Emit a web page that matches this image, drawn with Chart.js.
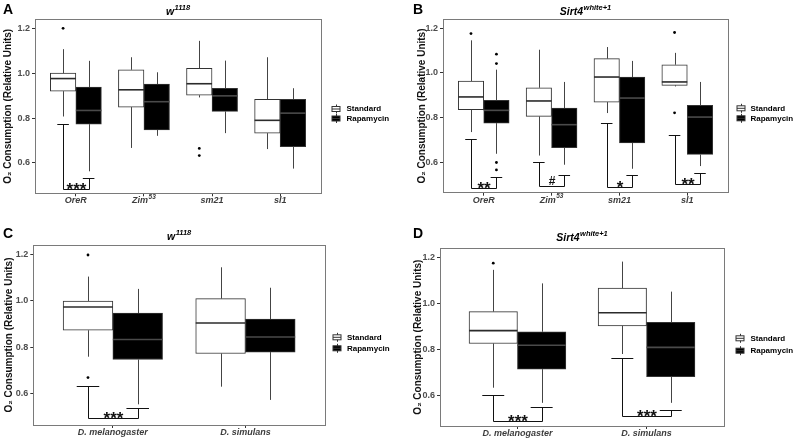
<!DOCTYPE html>
<html>
<head>
<meta charset="utf-8">
<script src="https://cdn.jsdelivr.net/npm/chart.js@4.4.0/dist/chart.umd.min.js"></script>
<style>
html,body{margin:0;padding:0;background:#ffffff;}
#wrap{position:relative;width:799px;height:439px;overflow:hidden;background:#fff;}
.pc{position:absolute;}
</style>
</head>
<body>
<div id="wrap">
  <div class="pc" style="left:0px;top:0px;width:400px;height:220px"><canvas id="cA"></canvas></div>
  <div class="pc" style="left:400px;top:0px;width:399px;height:220px"><canvas id="cB"></canvas></div>
  <div class="pc" style="left:0px;top:220px;width:400px;height:219px"><canvas id="cC"></canvas></div>
  <div class="pc" style="left:400px;top:220px;width:399px;height:219px"><canvas id="cD"></canvas></div>
</div>
<script>
// ---------------- DATA ----------------
const seriesNames = ['Standard', 'Rapamycin'];
const strainCategories = ['OreR', 'Zim^53', 'sm21', 'sl1'];
const speciesCategories = ['D. melanogaster', 'D. simulans'];
const yTickValues = [0.6, 0.8, 1.0, 1.2];
const panelLetters = ['A', 'B', 'C', 'D'];
const panelTitles = ['w^1118', 'Sirt4^white+1', 'w^1118', 'Sirt4^white+1'];
const yAxisTitle = 'O\u2082 Consumption (Relative Units)';

// box statistics per category: [lower whisker, Q1, median, Q3, upper whisker]
const aStandard  = [[0.807, 0.920, 0.976, 1.000, 1.107], [0.667, 0.849, 0.926, 1.015, 1.071], [0.892, 0.902, 0.953, 1.022, 1.144], [0.662, 0.733, 0.790, 0.884, 1.071]];
const aRapamycin = [[0.563, 0.773, 0.834, 0.938, 1.055], [0.721, 0.747, 0.873, 0.951, 1.004], [0.733, 0.830, 0.899, 0.932, 1.056], [0.575, 0.673, 0.822, 0.884, 0.933]];
const aStandardOutliers  = [[1.200], [], [0.665, 0.633], []];
const aRapamycinOutliers = [[], [], [], []];
// significance: [left arm top, right arm top, bracket bottom, label]
const aSignificance = [[0.773, 0.533, 0.486, '***'], null, null, null];

const bStandard  = [[0.736, 0.836, 0.893, 0.964, 1.146], [0.631, 0.806, 0.875, 0.934, 1.104], [0.821, 0.870, 0.982, 1.064, 1.116], [0.940, 0.945, 0.960, 1.037, 1.090]];
const bRapamycin = [[0.639, 0.776, 0.833, 0.878, 1.015], [0.590, 0.666, 0.769, 0.843, 0.960], [0.572, 0.687, 0.888, 0.982, 1.054], [0.584, 0.636, 0.803, 0.855, 0.960]];
const bStandardOutliers  = [[1.176], [], [], [1.181, 0.822]];
const bRapamycinOutliers = [[1.084, 1.042, 0.600, 0.567], [], [], []];
const bSignificance = [[0.706, 0.537, 0.487, '**'], [0.604, 0.542, 0.497, '#'], [0.778, 0.542, 0.490, '*'], [0.724, 0.552, 0.504, '**']];

const cStandard  = [[0.759, 0.873, 0.973, 0.999, 1.104], [0.630, 0.773, 0.904, 1.009, 1.144]];
const cRapamycin = [[0.554, 0.747, 0.833, 0.947, 1.051], [0.573, 0.779, 0.844, 0.921, 1.056]];
const cStandardOutliers  = [[1.197, 0.669], []];
const cRapamycinOutliers = [[], []];
const cSignificance = [[0.633, 0.540, 0.494, '***'], null];

const dStandard  = [[0.632, 0.825, 0.881, 0.964, 1.146], [0.779, 0.902, 0.959, 1.066, 1.182]];
const dRapamycin = [[0.566, 0.713, 0.817, 0.876, 1.087], [0.566, 0.680, 0.808, 0.917, 1.051]];
const dStandardOutliers  = [[1.175], []];
const dRapamycinOutliers = [[], []];
const dSignificance = [[0.600, 0.549, 0.486, '***'], [0.760, 0.534, 0.508, '***']];

// ---------------- STYLE / LAYOUT ----------------
const FONT = "'Liberation Sans', Arial, Helvetica, sans-serif";
Chart.defaults.font.family = FONT;
const DODGE = 0.1875;

const panels = [
  { id: 'cA', letter: panelLetters[0], title: panelTitles[0], cats: strainCategories, std: aStandard, rap: aRapamycin, stdOut: aStandardOutliers, rapOut: aRapamycinOutliers, sig: aSignificance,
    pad: { left: 2, top: 19.3, right: 79, bottom: 16.7 }, yW: 33, letterPos: [3, 14], titleY: 14.5, legend: { keyX: 336, textX: 346.5, rows: [109, 118.5] } },
  { id: 'cB', letter: panelLetters[1], title: panelTitles[1], cats: strainCategories, std: bStandard, rap: bRapamycin, stdOut: bStandardOutliers, rapOut: bRapamycinOutliers, sig: bSignificance,
    pad: { left: 16, top: 19.3, right: 71, bottom: 17.3 }, yW: 27, letterPos: [13, 14], titleY: 14.5, legend: { keyX: 341, textX: 350.5, rows: [108.3, 118.3] } },
  { id: 'cC', letter: panelLetters[2], title: panelTitles[2], cats: speciesCategories, std: cStandard, rap: cRapamycin, stdOut: cStandardOutliers, rapOut: cRapamycinOutliers, sig: cSignificance,
    pad: { left: 3, top: 25, right: 75, bottom: 4 }, yW: 30.3, letterPos: [3, 18.3], titleY: 19.5, legend: { keyX: 337, textX: 347, rows: [117.3, 128.3] } },
  { id: 'cD', letter: panelLetters[3], title: panelTitles[3], cats: speciesCategories, std: dStandard, rap: dRapamycin, stdOut: dStandardOutliers, rapOut: dRapamycinOutliers, sig: dSignificance,
    pad: { left: 12, top: 28.3, right: 75, bottom: 3 }, yW: 28, letterPos: [13, 18.3], titleY: 20.5, legend: { keyX: 340, textX: 350.5, rows: [118.3, 130.7] } }
];

function drawSupText(ctx, text, x, y, baseFont, supFont, raise, align) {
  const parts = text.split('^');
  ctx.font = baseFont;
  const wb = ctx.measureText(parts[0]).width;
  let ws = 0;
  if (parts[1]) { ctx.font = supFont; ws = ctx.measureText(parts[1]).width + 0.5; }
  const x0 = align === 'center' ? x - (wb + ws) / 2 : x;
  ctx.textAlign = 'left';
  ctx.font = baseFont;
  ctx.fillText(parts[0], x0, y);
  if (parts[1]) { ctx.font = supFont; ctx.fillText(parts[1], x0 + wb + 0.5, y - raise); }
}

function extrasPlugin(spec) {
  return {
    id: 'boxExtras',
    afterDatasetsDraw(chart) {
      const ctx = chart.ctx, xs = chart.scales.x, ys = chart.scales.y;
      const series = [{ stats: spec.std, s: -1, med: '#2b2b2b' }, { stats: spec.rap, s: 1, med: '#4a4a4a' }];
      ctx.save();
      series.forEach(sr => {
        sr.stats.forEach((q, i) => {
          const c = i + 1 + sr.s * DODGE;
          const x = Math.round(xs.getPixelForValue(c)) + 0.5;
          ctx.strokeStyle = '#444444';
          ctx.lineWidth = 1;
          ctx.beginPath();
          ctx.moveTo(x, ys.getPixelForValue(q[3])); ctx.lineTo(x, ys.getPixelForValue(q[4]));
          ctx.moveTo(x, ys.getPixelForValue(q[1])); ctx.lineTo(x, ys.getPixelForValue(q[0]));
          ctx.stroke();
          ctx.strokeStyle = sr.med;
          ctx.lineWidth = 1.6;
          ctx.beginPath();
          const ym = ys.getPixelForValue(q[2]);
          ctx.moveTo(xs.getPixelForValue(c - DODGE), ym); ctx.lineTo(xs.getPixelForValue(c + DODGE), ym);
          ctx.stroke();
        });
      });
      // significance brackets
      spec.sig.forEach((g, i) => {
        if (!g) return;
        const lc = i + 1 - DODGE, rc = i + 1 + DODGE, th = 0.085;
        const lx = Math.round(xs.getPixelForValue(lc)) + 0.5, rx = Math.round(xs.getPixelForValue(rc)) + 0.5;
        const yb = Math.round(ys.getPixelForValue(g[2])) + 0.5;
        const yl = Math.round(ys.getPixelForValue(g[0])) + 0.5, yr = Math.round(ys.getPixelForValue(g[1])) + 0.5;
        ctx.strokeStyle = '#111111';
        ctx.lineWidth = 1;
        ctx.beginPath();
        ctx.moveTo(xs.getPixelForValue(lc - th), yl); ctx.lineTo(xs.getPixelForValue(lc + th), yl);
        ctx.moveTo(lx, yl); ctx.lineTo(lx, yb); ctx.lineTo(rx, yb); ctx.lineTo(rx, yr);
        ctx.moveTo(xs.getPixelForValue(rc - th), yr); ctx.lineTo(xs.getPixelForValue(rc + th), yr);
        ctx.stroke();
        ctx.fillStyle = '#111111';
        ctx.textAlign = 'center';
        ctx.textBaseline = 'alphabetic';
        if (g[3] === '#') {
          ctx.font = 'bold 12px ' + FONT;
          ctx.fillText(g[3], (lx + rx) / 2, yb - 1.5);
        } else {
          ctx.font = 'bold 17px ' + FONT;
          ctx.fillText(g[3], (lx + rx) / 2, yb + 5.5);
        }
      });
      ctx.restore();
    },
    afterDraw(chart) {
      const ctx = chart.ctx, xs = chart.scales.x, a = chart.chartArea;
      ctx.save();
      // panel border
      ctx.strokeStyle = '#7a7a7a';
      ctx.lineWidth = 1;
      ctx.strokeRect(Math.round(a.left) + 0.5, Math.round(a.top) + 0.5, Math.round(a.right - a.left), Math.round(a.bottom - a.top));
      // x category labels
      ctx.fillStyle = '#3d3d3d';
      ctx.textBaseline = 'middle';
      spec.cats.forEach((c, i) => {
        const x = xs.getPixelForValue(i + 1);
        drawSupText(ctx, c, x, a.bottom + 7.5, 'italic bold 9px ' + FONT, 'italic bold 6.5px ' + FONT, 3.5, 'center');
      });
      // panel letter
      ctx.textBaseline = 'alphabetic';
      ctx.fillStyle = '#000000';
      ctx.font = 'bold 14px ' + FONT;
      ctx.textAlign = 'left';
      ctx.fillText(spec.letter, spec.letterPos[0], spec.letterPos[1]);
      // panel title
      drawSupText(ctx, spec.title, (a.left + a.right) / 2, spec.titleY, 'italic bold 10.5px ' + FONT, 'italic bold 7.5px ' + FONT, 4.5, 'center');
      // legend
      const L = spec.legend;
      const fills = ['#ffffff', '#000000'];
      seriesNames.forEach((name, k) => {
        const cy = L.rows[k];
        const kx = L.keyX;
        ctx.strokeStyle = '#333333';
        ctx.lineWidth = 1;
        ctx.beginPath();
        ctx.moveTo(Math.round(kx) + 0.5, cy - 4.5); ctx.lineTo(Math.round(kx) + 0.5, cy + 4.5);
        ctx.stroke();
        ctx.fillStyle = fills[k];
        ctx.fillRect(kx - 4, cy - 2.5, 8, 5);
        ctx.strokeRect(kx - 4, cy - 2.5, 8, 5);
        ctx.beginPath(); ctx.moveTo(kx - 4, cy); ctx.lineTo(kx + 4, cy); ctx.stroke();
        ctx.fillStyle = '#000000';
        ctx.font = 'bold 8px ' + FONT;
        ctx.textAlign = 'left';
        ctx.textBaseline = 'middle';
        ctx.fillText(name, L.textX, cy);
      });
      ctx.restore();
    }
  };
}

function makeChart(spec) {
  const n = spec.cats.length;
  const boxPoints = (stats, s) => stats.map((q, i) => ({ x: i + 1 + s * DODGE, y: [q[1], q[3]] }));
  const outPoints = (outs, s) => outs.flatMap((arr, i) => arr.map(v => ({ x: i + 1 + s * DODGE, y: v })));
  const barCommon = { borderColor: '#333333', borderWidth: 1, borderSkipped: false, grouped: false, categoryPercentage: 1, barPercentage: 1, order: 2 };
  const tickFont = { size: 9, weight: 'bold', family: FONT };
  return new Chart(document.getElementById(spec.id), {
    type: 'bar',
    data: {
      datasets: [
        Object.assign({ label: seriesNames[0], data: boxPoints(spec.std, -1), backgroundColor: '#ffffff' }, barCommon),
        Object.assign({ label: seriesNames[1], data: boxPoints(spec.rap, 1), backgroundColor: '#000000' }, barCommon),
        { type: 'scatter', label: seriesNames[0] + ' outliers', data: outPoints(spec.stdOut, -1), pointRadius: 1.4, backgroundColor: '#000000', borderWidth: 0, order: 0 },
        { type: 'scatter', label: seriesNames[1] + ' outliers', data: outPoints(spec.rapOut, 1), pointRadius: 1.4, backgroundColor: '#000000', borderWidth: 0, order: 0 }
      ]
    },
    options: {
      responsive: true,
      maintainAspectRatio: false,
      animation: false,
      events: [],
      devicePixelRatio: 1,
      layout: { autoPadding: false, padding: spec.pad },
      plugins: { legend: { display: false }, tooltip: { enabled: false }, title: { display: false } },
      scales: {
        x: {
          type: 'linear', min: 0.4, max: n + 0.6, offset: false,
          afterBuildTicks: ax => { ax.ticks = spec.cats.map((c, i) => ({ value: i + 1 })); },
          afterFit: ax => { ax.height = 10; },
          ticks: { display: false },
          grid: { offset: false, drawOnChartArea: false, drawTicks: true, tickLength: 3, tickColor: '#333333', color: '#333333' },
          border: { display: false }
        },
        y: {
          type: 'linear', min: 0.465, max: 1.24,
          afterBuildTicks: ax => { ax.ticks = yTickValues.map(v => ({ value: v })); },
          afterFit: ax => { ax.width = spec.yW; },
          ticks: { callback: v => Number(v).toFixed(1), font: tickFont, color: '#4d4d4d', padding: 2 },
          grid: { drawOnChartArea: false, drawTicks: true, tickLength: 3, tickColor: '#333333', color: '#333333' },
          border: { display: false },
          title: { display: true, text: yAxisTitle, font: { size: 10, weight: 'bold', family: FONT }, color: '#111111', padding: 0 }
        }
      }
    },
    plugins: [extrasPlugin(spec)]
  });
}

panels.forEach(makeChart);
</script>
</body>
</html>
